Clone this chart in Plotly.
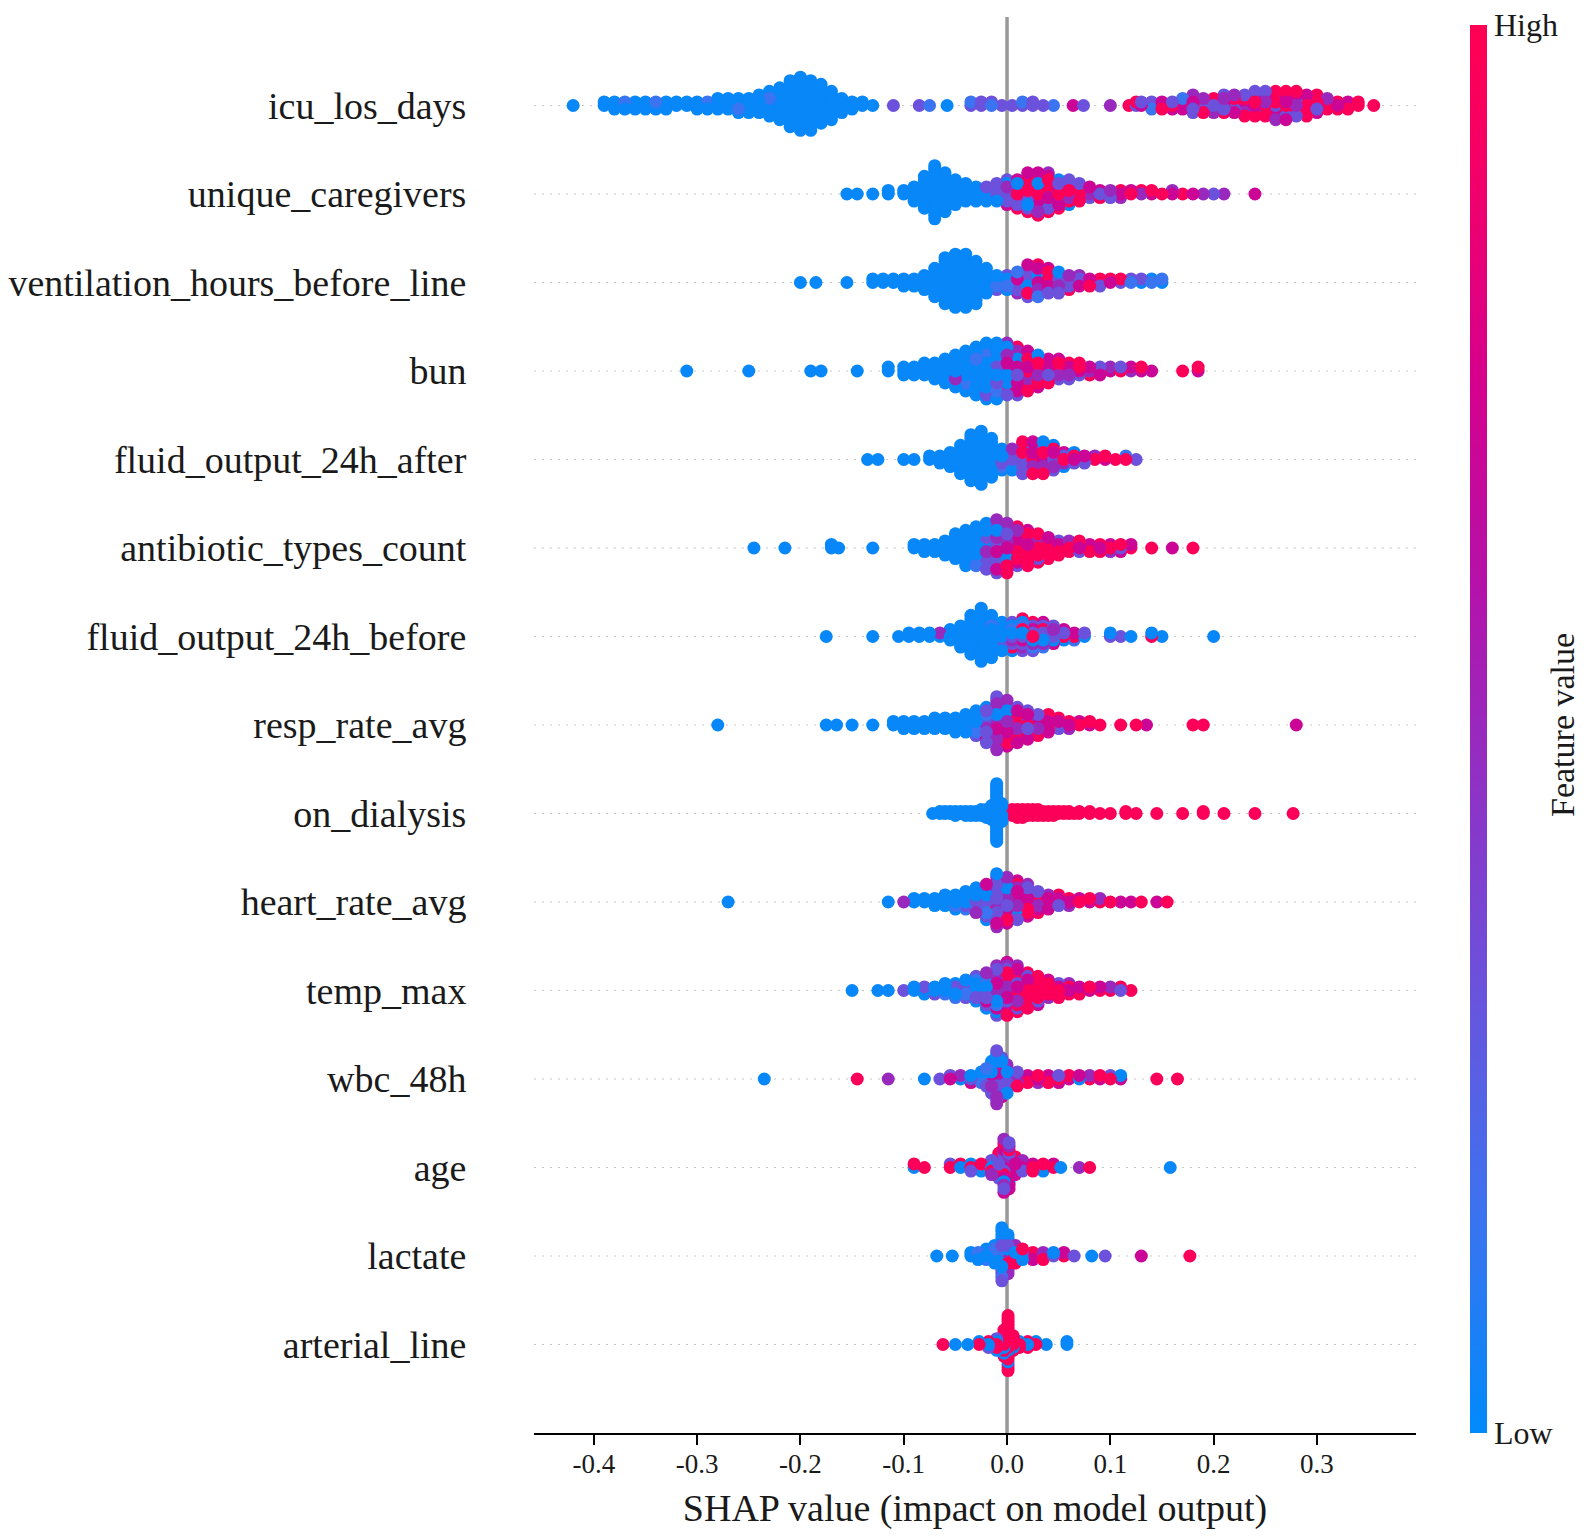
import math
import plotly.graph_objects as go

# feature order, top to bottom
features = ["icu_los_days", "unique_caregivers", "ventilation_hours_before_line", "bun",
            "fluid_output_24h_after", "antibiotic_types_count", "fluid_output_24h_before",
            "resp_rate_avg", "on_dialysis", "heart_rate_avg", "temp_max", "wbc_48h",
            "age", "lactate", "arterial_line"]

# feature value of each point, coded by letter (low -> high)
code_values = {"b": 0.02, "c": 0.15, "p": 0.32, "v": 0.5, "m": 0.7, "r": 0.97}

x_ticks = [-0.4, -0.3, -0.2, -0.1, 0.0, 0.1, 0.2, 0.3]
x_tick_text = ["-0.4", "-0.3", "-0.2", "-0.1", "0.0", "0.1", "0.2", "0.3"]

# (shap value, feature value codes of the points at that value)
icu_los_days = [
    (-0.42, "b"), (-0.39, "bb"), (-0.38, "bbb"), (-0.37, "bcb"), (-0.36, "bbb"), (-0.35, "bbb"),
    (-0.34, "bcb"), (-0.33, "bbb"), (-0.32, "bb"), (-0.31, "bb"), (-0.30, "bbb"), (-0.29, "bcb"),
    (-0.28, "bbbb"), (-0.27, "bbbb"), (-0.26, "bbcbb"), (-0.25, "bbbbb"), (-0.24, "bbbbbb"),
    (-0.23, "bbbcbbbb"), (-0.22, "bbbbbbbbbb"), (-0.21, "bbbbbbbbbbbbbb"),
    (-0.20, "bbbbbbbbbbbbbbbb"), (-0.19, "bbbbbbbcbbbbbbb"), (-0.18, "bbbbbbbbbbbb"),
    (-0.17, "bbbbbbbbb"), (-0.16, "bbbbb"), (-0.15, "bbb"), (-0.14, "bb"), (-0.13, "b"),
    (-0.11, "p"), (-0.085, "p"), (-0.075, "c"), (-0.058, "b"),
    (-0.035, "pc"), (-0.025, "pp"), (-0.015, "cp"), (-0.005, "p"), (0.005, "p"), (0.015, "pc"),
    (0.025, "pp"), (0.035, "p"), (0.045, "c"), (0.064, "m"), (0.074, "p"), (0.10, "v"),
    (0.118, "r"), (0.125, "pr"), (0.13, "mp"), (0.14, "rpc"), (0.15, "pmr"), (0.16, "rpm"),
    (0.17, "prmc"), (0.18, "rmprpv"), (0.19, "mrpvr"), (0.20, "prmrv"), (0.21, "rmpvrp"),
    (0.22, "mrprmv"), (0.23, "rpmrvpr"), (0.24, "mrprvmrp"), (0.25, "rvmprmrp"),
    (0.26, "prmrvpmrv"), (0.27, "rmpvrmprm"), (0.28, "vrmprmpr"), (0.29, "rmvprmr"),
    (0.30, "mrpvmr"), (0.31, "rmrv"), (0.32, "mrr"), (0.33, "rmr"), (0.34, "rr"), (0.355, "r"),
]

unique_caregivers = [
    (-0.155, "b"), (-0.145, "b"), (-0.13, "b"), (-0.115, "bb"), (-0.10, "bb"), (-0.09, "bbbbb"),
    (-0.08, "bbbbbbbbbb"), (-0.07, "bbbbbbbcbbbbbbbb"), (-0.06, "bbbbbbbbbbbb"),
    (-0.05, "bbbbbbbb"), (-0.04, "bbbbbb"), (-0.03, "bbcbb"), (-0.02, "bcbpb"), (-0.01, "pbcpbp"),
    (0.00, "pcbvpbmp"), (0.01, "rpmvrbpmr"), (0.02, "mrpvrmbrpvrm"), (0.03, "rmpvrbmrprvmr"),
    (0.04, "prmrvmbrpmrv"), (0.05, "rmpvrpmbr"), (0.06, "mrvprmbp"), (0.07, "rpmvrp"),
    (0.08, "vrpm"), (0.09, "pmr"), (0.10, "rvp"), (0.11, "mrv"), (0.12, "rm"), (0.13, "vr"),
    (0.14, "mr"), (0.15, "r"), (0.16, "mv"), (0.17, "r"), (0.18, "m"), (0.19, "v"), (0.20, "p"),
    (0.21, "v"), (0.24, "m"),
]

ventilation_hours_before_line = [
    (-0.20, "b"), (-0.185, "b"), (-0.155, "b"), (-0.13, "bb"), (-0.12, "bb"), (-0.11, "bb"),
    (-0.10, "bbb"), (-0.09, "bbb"), (-0.08, "bbbbb"), (-0.07, "bbbbbbbbb"),
    (-0.06, "bbbbbbbbbbbbbb"), (-0.05, "bbbbbbbbbbbbbbbb"), (-0.04, "bbbbbbbbbbbbbbbb"),
    (-0.03, "bbbbbbbbbbbbb"), (-0.02, "bbbbbbbb"), (-0.01, "bbcbp"), (0.00, "pbcpb"),
    (0.01, "pmbrpcv"), (0.02, "rpbmvprcpm"), (0.03, "mprbvrpmcr"), (0.04, "prmvbrpm"),
    (0.05, "rpvmrbp"), (0.06, "mrpvr"), (0.07, "rpmv"), (0.08, "rmr"), (0.09, "vrp"),
    (0.10, "mr"), (0.11, "pr"), (0.12, "cp"), (0.13, "bp"), (0.14, "cb"), (0.15, "bc"),
]

bun = [
    (-0.31, "b"), (-0.25, "b"), (-0.19, "b"), (-0.18, "b"), (-0.145, "b"), (-0.115, "bb"),
    (-0.10, "bbb"), (-0.09, "bbb"), (-0.08, "bbbb"), (-0.07, "bbbbb"), (-0.06, "bbbbbbb"),
    (-0.05, "bbbbvbbbb"), (-0.04, "bbbbbbcbbbb"), (-0.03, "bbbbbcbbbbbbb"),
    (-0.02, "bbbbbbbcbbbbpbb"), (-0.01, "bpbcbbpbvbcbpbb"), (0.00, "pvbmprbvpmrbpv"),
    (0.01, "rmpvrbmrpvmrp"), (0.02, "rmrpvrmbrmr"), (0.03, "mrvrpmrbm"), (0.04, "rmpvrmr"),
    (0.05, "mrvrpm"), (0.06, "rmvrp"), (0.07, "mrpr"), (0.08, "vmr"), (0.09, "rpm"),
    (0.10, "mv"), (0.11, "rp"), (0.12, "vm"), (0.13, "mr"), (0.14, "m"), (0.17, "r"),
    (0.185, "mr"),
]

fluid_output_24h_after = [
    (-0.135, "b"), (-0.125, "b"), (-0.10, "b"), (-0.09, "b"), (-0.075, "bb"), (-0.065, "bbb"),
    (-0.055, "bbbbb"), (-0.045, "bbbbbbbbb"), (-0.035, "bbbbbbbbbbbbbb"),
    (-0.025, "bbbbbbbbbbbbbbbb"), (-0.015, "bbbbbbcbbbbb"), (-0.005, "bbpbcbb"),
    (0.005, "pbcpbvb"), (0.015, "pmbrpcvbpr"), (0.025, "rpbmvpbcrm"), (0.035, "mpbrvpcmrb"),
    (0.045, "prbmvrpb"), (0.055, "rpvmb"), (0.065, "mrpb"), (0.075, "rmp"), (0.085, "rv"),
    (0.095, "mr"), (0.105, "r"), (0.115, "rc"), (0.125, "p"),
]

antibiotic_types_count = [
    (-0.245, "b"), (-0.215, "b"), (-0.17, "bb"), (-0.163, "b"), (-0.13, "b"), (-0.09, "bb"),
    (-0.08, "bbb"), (-0.07, "bbb"), (-0.06, "bbbbb"), (-0.05, "bbbbbbbb"), (-0.04, "bbbbbbbbbbb"),
    (-0.03, "bbbbpbbbbbcb"), (-0.02, "pbvbmpbcpbvbpb"), (-0.01, "vpmbpvcmpbvpmbpv"),
    (0.00, "mrpvmrbpmvrpmvr"), (0.01, "rmrvpmrrmvpr"), (0.02, "rmrprmvrrmr"), (0.03, "rmrvrmprr"),
    (0.04, "mrrvrmr"), (0.05, "rmrpr"), (0.06, "rmrv"), (0.07, "mrpr"), (0.08, "rmr"),
    (0.09, "mrr"), (0.10, "rmv"), (0.11, "prm"), (0.12, "rm"), (0.14, "r"), (0.16, "m"),
    (0.18, "r"),
]

fluid_output_24h_before = [
    (-0.175, "b"), (-0.13, "b"), (-0.105, "b"), (-0.095, "bb"), (-0.085, "bb"), (-0.075, "bb"),
    (-0.065, "bv"), (-0.055, "bbbb"), (-0.045, "bbbbbbb"), (-0.035, "bbbbbbbbbbbb"),
    (-0.025, "bbbbbbbbbbbbbbbb"), (-0.015, "bbbbbcbbbbbbb"), (-0.005, "bbpbcbpbb"),
    (0.005, "pbvcpbrpb"), (0.015, "pbmrpcvbpr"), (0.025, "rpbmvpcrp"), (0.035, "mpbrvpcm"),
    (0.045, "prbvmp"), (0.055, "rpbm"), (0.065, "rmc"), (0.075, "bp"), (0.10, "pb"), (0.11, "p"),
    (0.12, "b"), (0.14, "rb"), (0.15, "b"), (0.20, "b"),
]

resp_rate_avg = [
    (-0.28, "b"), (-0.175, "b"), (-0.165, "b"), (-0.15, "b"), (-0.13, "b"), (-0.11, "bb"),
    (-0.10, "bbb"), (-0.09, "bbb"), (-0.08, "bbb"), (-0.07, "bbbb"), (-0.06, "bbbb"),
    (-0.05, "bbcbb"), (-0.04, "bbbcbb"), (-0.03, "bbpbcbpb"), (-0.02, "pbvbpcbpmbp"),
    (-0.01, "vpmpvbpmvpcvmpvp"), (0.00, "mvprmvpbmvrpmv"), (0.01, "rmvpmrvmrpm"),
    (0.02, "rmpvrmrpm"), (0.03, "mrvrmpr"), (0.04, "rmrvmr"), (0.05, "rmpr"), (0.06, "mrv"),
    (0.07, "rm"), (0.08, "mr"), (0.09, "r"), (0.11, "r"), (0.125, "r"), (0.135, "m"),
    (0.18, "r"), (0.19, "r"), (0.28, "m"),
]

on_dialysis = [
    (-0.072, "b"), (-0.065, "bb"), (-0.06, "bb"), (-0.055, "bb"), (-0.05, "bbb"), (-0.045, "bb"),
    (-0.04, "bbb"), (-0.035, "bbb"), (-0.03, "bbb"), (-0.025, "bbbb"), (-0.02, "bbbbb"),
    (-0.015, "bbbbbbbb"), (-0.01, "bbbbbbbbbbbbbbbbbbbbbbbbbbbbbb"), (-0.005, "bbbbbbbbbb"),
    (0.005, "rrrr"), (0.01, "rrrrr"), (0.015, "rrrrr"), (0.02, "rrrr"), (0.025, "rrrr"),
    (0.03, "rrrr"), (0.035, "rrr"), (0.04, "rrr"), (0.045, "rrr"), (0.05, "rr"), (0.055, "rr"),
    (0.06, "rr"), (0.065, "r"), (0.07, "rr"), (0.08, "rr"), (0.09, "r"), (0.10, "r"),
    (0.115, "rr"), (0.125, "r"), (0.145, "r"), (0.17, "r"), (0.19, "rr"), (0.21, "r"),
    (0.24, "r"), (0.277, "r"),
]

heart_rate_avg = [
    (-0.27, "b"), (-0.115, "b"), (-0.10, "v"), (-0.09, "bb"), (-0.08, "bb"), (-0.07, "bbb"),
    (-0.06, "bbbb"), (-0.05, "bbcbb"), (-0.04, "bbpbcb"), (-0.03, "pbcbpbvb"),
    (-0.02, "pbrbpvcbpmb"), (-0.01, "vpmpvbpmvpcvmpvb"), (0.00, "mvprmvpbmvrpmv"),
    (0.01, "rmvpbmrvmrpm"), (0.02, "rmpvrmrpmv"), (0.03, "mrvrmpr"), (0.04, "rmrvm"),
    (0.05, "rmpr"), (0.06, "mrv"), (0.07, "rm"), (0.08, "mr"), (0.09, "rv"), (0.10, "r"),
    (0.11, "m"), (0.12, "m"), (0.13, "r"), (0.145, "m"), (0.155, "r"),
]

temp_max = [
    (-0.15, "b"), (-0.125, "b"), (-0.115, "b"), (-0.10, "p"), (-0.09, "bb"), (-0.08, "bpb"),
    (-0.07, "bbp"), (-0.06, "bbcb"), (-0.05, "bpbbc"), (-0.04, "bpcbpb"), (-0.03, "pbvbpcbp"),
    (-0.02, "pbvcpbmbpvb"), (-0.01, "vpbmpvbpcvmpbvp"), (0.00, "mvprmvpbmrrpmvrm"),
    (0.01, "rmrpmrvmrrpmrv"), (0.02, "rmrvrmrpmrr"), (0.03, "mrrvrmprm"), (0.04, "rmrrvm"),
    (0.05, "rmrpr"), (0.06, "mrrv"), (0.07, "rmr"), (0.08, "mr"), (0.09, "rm"), (0.10, "rv"),
    (0.11, "pr"), (0.12, "r"),
]

wbc_48h = [
    (-0.235, "b"), (-0.145, "r"), (-0.115, "v"), (-0.08, "b"), (-0.065, "p"), (-0.055, "mp"),
    (-0.045, "bv"), (-0.035, "pbm"), (-0.025, "bpcb"), (-0.02, "pbvbpc"), (-0.015, "bpmbvpcbpb"),
    (-0.01, "vpbmpvbpcbvmpbvp"), (-0.005, "pbvmpbcvpbmp"), (0.00, "mvpbrmpvb"), (0.01, "rmvpr"),
    (0.02, "rmr"), (0.03, "mrv"), (0.04, "rmr"), (0.05, "rpm"), (0.06, "mr"), (0.07, "bm"),
    (0.08, "rv"), (0.09, "mr"), (0.10, "rp"), (0.11, "mb"), (0.145, "r"), (0.165, "r"),
]

age = [
    (-0.09, "br"), (-0.08, "r"), (-0.055, "rp"), (-0.045, "br"), (-0.035, "rbp"), (-0.025, "mrb"),
    (-0.015, "bmrpv"), (-0.008, "mpvrbmpr"), (-0.003, "mvpmrvmpbmvmprmv"),
    (0.002, "vmprmvmpbrmvmp"), (0.008, "rmvpmr"), (0.015, "mrpv"), (0.025, "rmr"), (0.035, "mrb"),
    (0.045, "rm"), (0.052, "b"), (0.07, "v"), (0.08, "r"), (0.158, "b"),
]

lactate = [
    (-0.068, "b"), (-0.053, "b"), (-0.035, "bb"), (-0.028, "bcb"), (-0.02, "bbcb"),
    (-0.012, "bpbcbb"), (-0.005, "bpbcbpbbvbpbcbpb"), (0.001, "pbvbrpbcpbvb"), (0.008, "rbpmrv"),
    (0.015, "rpbr"), (0.025, "prm"), (0.035, "rvr"), (0.045, "pb"), (0.055, "rm"), (0.065, "p"),
    (0.082, "b"), (0.095, "p"), (0.13, "m"), (0.177, "r"),
]

arterial_line = [
    (-0.062, "r"), (-0.05, "b"), (-0.038, "b"), (-0.027, "rb"), (-0.018, "brp"), (-0.01, "rbrpb"),
    (-0.003, "rrbrrrbrrr"), (0.001, "rrrrbrrrrrrrbrrrrrrr"), (0.006, "rrbrrr"), (0.012, "rbr"),
    (0.02, "brr"), (0.028, "rb"), (0.038, "b"), (0.058, "bb"),
]

rows = [icu_los_days, unique_caregivers, ventilation_hours_before_line, bun,
        fluid_output_24h_after, antibiotic_types_count, fluid_output_24h_before,
        resp_rate_avg, on_dialysis, heart_rate_avg, temp_max, wbc_48h, age, lactate,
        arterial_line]


def swarm(row, pos, row_height=0.4, nbins=100):
    # same binning/stacking as shap's beeswarm summary plot
    xs, cs = [], []
    for shap, codes in row:
        for ch in codes:
            xs.append(shap)
            cs.append(code_values[ch])
    lo, hi = min(xs), max(xs)
    quant = [round(nbins * (x - lo) / (hi - lo + 1e-8)) for x in xs]
    ys = [0] * len(xs)
    layer, last = 0, None
    for k in sorted(range(len(xs)), key=lambda k: quant[k]):
        if quant[k] != last:
            layer = 0
        ys[k] = math.ceil(layer / 2) * ((layer % 2) * 2 - 1)
        layer += 1
        last = quant[k]
    top = max(ys) + 1
    ys = [pos + y * 0.9 * row_height / top for y in ys]
    # scramble drawing order like shap does
    n = len(xs)
    order = sorted(range(n), key=lambda k: (k * 7919) % n)
    return [xs[k] for k in order], [ys[k] for k in order], [cs[k] for k in order]


n_feat = len(features)
all_x, all_y, all_c = [], [], []
for i, row in enumerate(rows):
    x, y, c = swarm(row, n_feat - 1 - i)
    all_x += x
    all_y += y
    all_c += c

red_blue = [[0.0, "rgb(0,138,250)"], [0.15, "rgb(58,116,240)"], [0.3, "rgb(102,86,222)"],
            [0.45, "rgb(140,52,198)"], [0.6, "rgb(180,18,170)"], [0.75, "rgb(214,0,140)"],
            [0.9, "rgb(244,0,104)"], [1.0, "rgb(255,0,82)"]]

serif = "Liberation Serif, Times New Roman, serif"
ink = "#1a1a1a"

fig = go.Figure()
fig.add_trace(go.Scatter(
    x=all_x, y=all_y, mode="markers", hoverinfo="skip",
    marker=dict(size=13, color=all_c, colorscale=red_blue, cmin=0, cmax=1,
                line=dict(width=0), showscale=True,
                colorbar=dict(x=1.0612, xanchor="left", y=0, yanchor="bottom",
                              len=0.9944, lenmode="fraction", thickness=17, outlinewidth=0,
                              xpad=0, ypad=0, ticklabeloverflow="allow",
                              tickvals=[0, 1], ticktext=["Low", "High"], ticks="",
                              tickfont=dict(family=serif, size=32, color=ink))),
))

shapes = []
for i in range(n_feat):
    shapes.append(dict(type="line", xref="paper", x0=0, x1=1, yref="y", y0=i, y1=i,
                       line=dict(color="#c8c8c8", width=1.2, dash="2px,6px"), layer="below"))
shapes.append(dict(type="line", xref="x", x0=0, x1=0, yref="paper", y0=0, y1=1,
                   line=dict(color="#999999", width=3.5), layer="below"))

# page body adds an 8px margin, so the figure is sized to fit inside the window
fig.update_layout(
    width=1578, height=1522,
    margin=dict(l=526, r=170, t=9, b=97, autoexpand=False),
    paper_bgcolor="white", plot_bgcolor="white",
    showlegend=False, shapes=shapes,
    font=dict(family=serif, color=ink),
    xaxis=dict(range=[-0.4579, 0.3959], tickvals=x_ticks, ticktext=x_tick_text,
               showgrid=False, zeroline=False, showline=True, linecolor="black", linewidth=2,
               ticks="outside", ticklen=10, tickwidth=2, tickcolor="black",
               ticklabelstandoff=-4,
               tickfont=dict(family=serif, size=27, color=ink),
               title=dict(text="SHAP value (impact on model output)",
                          font=dict(family=serif, size=38, color=ink), standoff=17)),
    yaxis=dict(range=[-1, n_feat], tickvals=list(range(n_feat)),
               ticktext=features[::-1], showgrid=False, zeroline=False, showline=False,
               ticks="outside", ticklen=59, tickcolor="rgba(0,0,0,0)",
               tickfont=dict(family=serif, size=38, color=ink)),
    annotations=[dict(text="Feature value", xref="paper", yref="paper", x=1.1655, y=0.5,
                      xanchor="center", yanchor="middle", textangle=-90, showarrow=False,
                      font=dict(family=serif, size=34, color=ink))],
)

fig.write_html("out.html")
